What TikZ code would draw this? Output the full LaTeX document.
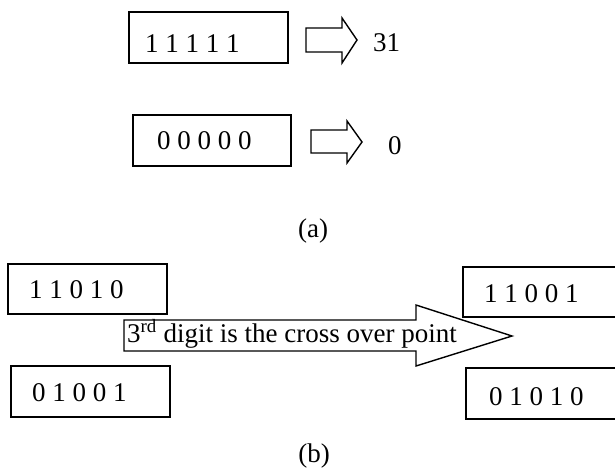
\documentclass[tikz,border=0pt]{standalone}
\usepackage{fontspec}
\setmainfont{Liberation Serif}
\begin{document}
\begin{tikzpicture}[x=1pt,y=-1pt,
  box/.style={draw, line width=1.6pt, rectangle, inner sep=0pt},
  blockarrow/.style={draw, line width=1.4pt, line join=miter, fill=white},
  txt/.style={inner sep=0pt, font=\fontsize{27pt}{32pt}\selectfont}]
\useasboundingbox (0,0) rectangle (615,468);
% (a)
\node[box, minimum width=159pt, minimum height=51pt] (b1) at (208.5,37.5) {};
\node[txt, anchor=base west] (t1) at (145,53) {1 1 1 1 1};
\draw[blockarrow] (306,28) -- (342,28) -- (342,18) -- (357,40) -- (342,63) -- (342,52) -- (306,52) -- cycle;
\node[txt, anchor=base west] (r1) at (373,52) {31};
\node[box, minimum width=158pt, minimum height=51pt] (b2) at (212,140.5) {};
\node[txt, anchor=base west] (t2) at (157,149) {0 0 0 0 0};
\draw[blockarrow] (311,130) -- (347,130) -- (347,121) -- (362,142) -- (347,163) -- (347,153) -- (311,153) -- cycle;
\node[txt, anchor=base west] (r2) at (388,154) {0};
\node[txt, anchor=base] (la) at (313,237) {(a)};
% (b)
\node[box, minimum width=159pt, minimum height=50pt] (p1) at (87.5,289) {};
\node[txt, anchor=base west] (pt1) at (29,298) {1 1 0 1 0};
\node[box, minimum width=159pt, minimum height=51pt] (p2) at (90.5,391.5) {};
\node[txt, anchor=base west] (pt2) at (32,401) {0 1 0 0 1};
\draw[blockarrow] (124,320) -- (416,320) -- (416,305) -- (512,336) -- (416,366) -- (416,351) -- (124,351) -- cycle;
\node[txt, anchor=base west] (cx) at (127,342) {3\textsuperscript{rd} digit is the cross over point};
\node[box, minimum width=157pt, minimum height=50pt] (c1) at (541.5,292) {};
\node[txt, anchor=base west] (ct1) at (484,302) {1 1 0 0 1};
\node[box, minimum width=154pt, minimum height=51pt] (c2) at (543,393.5) {};
\node[txt, anchor=base west] (ct2) at (489,405) {0 1 0 1 0};
\node[txt, anchor=base] (lb) at (314,462) {(b)};
\end{tikzpicture}
\end{document}
